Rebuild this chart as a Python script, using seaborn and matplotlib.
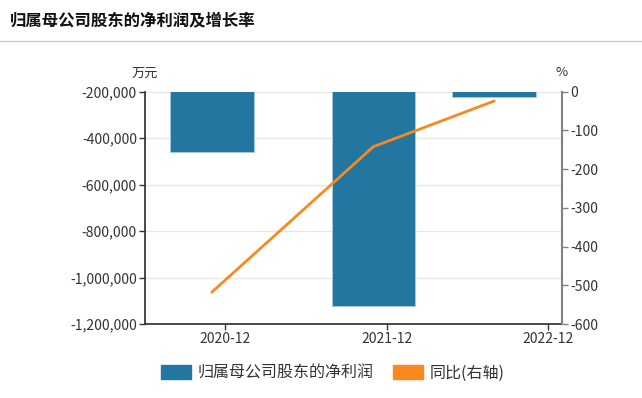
"""
Net profit attributable to parent shareholders and growth rate
"""

import matplotlib
matplotlib.use("Agg")
import matplotlib.pyplot as plt
import matplotlib.dates as mdates
from matplotlib.patches import Patch
from matplotlib.lines import Line2D
import numpy as np
import pandas as pd
import seaborn as sns

# Data
report_dates = ["2020-12-31", "2021-12-31", "2022-09-30"]
net_profit = [-460000, -1123000, -222000]       # 万元
yoy_growth = [-518, -142, -24]                  # %
tick_dates = ["2021-01-30", "2022-01-30", "2023-01-30"]
tick_labels = ["2020-12", "2021-12", "2022-12"]
left_ticks = [-1200000, -1000000, -800000, -600000, -400000, -200000]
right_ticks = [-600, -500, -400, -300, -200, -100, 0]

BLUE = "#23769f"
ORANGE = "#f7891f"
TXT = "#333333"

sns.set_theme(style="white")
plt.rcParams["font.family"] = ["Noto Sans CJK SC", "DejaVu Sans"]

x = mdates.date2num(pd.to_datetime(report_dates))
df = pd.DataFrame({"x": x, "profit": net_profit, "yoy": yoy_growth})

fig = plt.figure(figsize=(6.42, 3.98), dpi=100)
ax = fig.add_axes([145.3 / 642, 1 - 324 / 398, (562 - 145.3) / 642, (324 - 91.7) / 398])

# title + separator
fig.text(10 / 642, 1 - 20 / 398, "归属母公司股东的净利润及增长率", fontsize=11.8,
         fontweight="bold", color="#111111", va="center", ha="left")
fig.add_artist(Line2D([0, 1], [1 - 40.5 / 398] * 2, color="#cccccc", lw=1))

# bars
sns.barplot(data=df, x="x", y="profit", native_scale=True, width=0.692,
            color=BLUE, saturation=1, edgecolor="#a9cbe0", linewidth=0.6, ax=ax)
ax.set_ylim(-1200000, -200000)
ax.set_xlim(mdates.date2num(pd.Timestamp("2020-08-03")),
            mdates.date2num(pd.Timestamp("2023-03-02")))
ax.set_yticks(left_ticks)
ax.set_yticklabels([f"{v:,}" for v in left_ticks])
ax.set_xticks(mdates.date2num(pd.to_datetime(tick_dates)))
ax.set_xticklabels(tick_labels)
ax.set_xlabel("")
ax.set_ylabel("")
ax.grid(axis="y", color="#e6e6e6", lw=1)
ax.set_axisbelow(True)
ax.tick_params(axis="both", labelsize=10, colors=TXT, length=4, width=1, direction="out",
               left=True, bottom=True, pad=2)
for s in ["top", "right"]:
    ax.spines[s].set_visible(False)
ax.spines["left"].set_color(TXT)
ax.spines["bottom"].set_color(TXT)

# line on right axis
ax2 = ax.twinx()
sns.lineplot(data=df, x="x", y="yoy", color=ORANGE, lw=2, ax=ax2)
ax2.set_ylim(-600, 0)
ax2.set_yticks(right_ticks)
ax2.set_yticklabels([str(v) for v in right_ticks])
ax2.set_ylabel("")
ax2.grid(False)
ax2.tick_params(axis="y", labelsize=10, colors="#808080", labelcolor=TXT, length=4,
                width=1, direction="out", right=True, pad=2)
for s in ["top", "left", "bottom"]:
    ax2.spines[s].set_visible(False)
ax2.spines["right"].set_color("#808080")
ax2.spines["right"].set_linewidth(1.5)

# units
fig.text(145 / 642, 1 - 73 / 398, "万元", fontsize=9.5, color=TXT, ha="center", va="center")
fig.text(562 / 642, 1 - 73 / 398, "%", fontsize=9.5, color=TXT, ha="center", va="center")

# legend
handles = [Patch(facecolor=BLUE, edgecolor=BLUE), Patch(facecolor=ORANGE, edgecolor=ORANGE)]
fig.legend(handles, ["归属母公司股东的净利润", "同比(右轴)"], loc="center",
           bbox_to_anchor=(333 / 642, 1 - 373 / 398), ncol=2, frameon=False,
           fontsize=11.5, handlelength=1.85, handleheight=1.0, handletextpad=0.45,
           columnspacing=1.2, labelcolor=TXT)

fig.savefig("out.png", dpi=100)
plt.close(fig)
